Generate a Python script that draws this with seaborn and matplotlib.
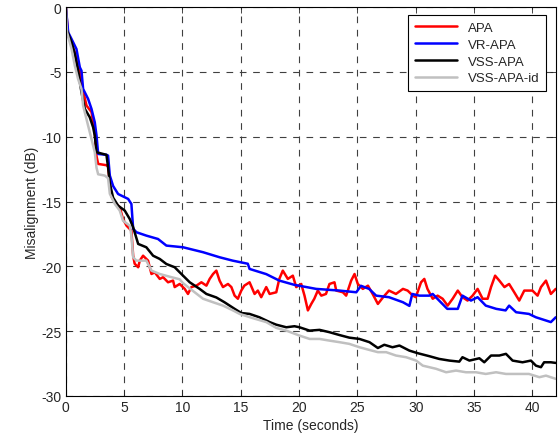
"""
Misalignment vs. time for APA family algorithms
"""

import numpy as np
import pandas as pd
import matplotlib
matplotlib.use('Agg')
import matplotlib.pyplot as plt
import seaborn as sns

# ---- data ----
names = ['APA', 'VR-APA', 'VSS-APA', 'VSS-APA-id']
colors = ['#ff0000', '#0000ff', '#000000', '#c0c0c0']

t_apa = [0, 0.2, 0.77, 0.97, 1.2, 1.34, 1.77, 2.2, 2.48, 2.63,
         2.77, 3.48, 3.62, 3.77, 3.9, 4.2, 4.62, 4.9, 5.2, 5.62,
         5.77, 5.9, 6.2, 6.34, 6.62, 7.05, 7.34, 7.62, 8.05, 8.34,
         8.76, 9.19, 9.33, 9.76, 10.19, 10.47, 10.76, 11.19, 11.62, 12.05,
         12.33, 12.62, 12.9, 13.18, 13.47, 13.9, 14.19, 14.47, 14.75, 15.04,
         15.3, 15.75, 16.18, 16.46, 16.75, 17.18, 17.47, 18.04, 18.3, 18.6,
         19.03, 19.46, 19.75, 20.18, 20.46, 20.75, 21.04, 21.3, 21.6, 21.9,
         22.3, 22.6, 23.03, 23.18, 23.75, 24.03, 24.46, 24.75, 25.03, 25.46,
         25.9, 26.3, 26.75, 27.2, 27.7, 28.3, 28.9, 29.3, 29.75, 30.0,
         30.45, 30.73, 31.0, 31.45, 31.87, 32.3, 32.73, 33.16, 33.6, 34.0,
         34.44, 34.87, 35.3, 35.73, 36.16, 36.45, 36.8, 37.16, 37.6, 38.0,
         38.44, 38.87, 39.3, 40.0, 40.44, 40.73, 41.16, 41.58, 42.0]
v_apa = [0, -2.2, -3.5, -4.5, -4.9, -5.9, -7.6, -8.1, -9.7, -11.5,
         -12.1, -12.2, -12.3, -13.6, -14.6, -15.06, -15.44, -16.35, -16.86, -17.25,
         -19.18, -19.8, -20.07, -19.56, -19.18, -19.56, -20.59, -20.46, -20.97, -20.84,
         -21.23, -21.1, -21.6, -21.36, -21.74, -22.13, -21.6, -21.49, -21.23, -21.49,
         -20.97, -20.59, -20.33, -21.1, -21.6, -21.36, -21.6, -22.26, -22.5, -21.87,
         -21.49, -21.23, -22.13, -21.87, -22.38, -21.6, -22.13, -22.0, -20.97, -20.33,
         -20.97, -20.72, -21.6, -21.36, -22.26, -23.4, -22.9, -22.5, -21.87, -22.26,
         -22.13, -21.36, -21.23, -21.87, -22.0, -22.26, -21.1, -20.59, -21.36, -21.74,
         -21.49, -22.13, -22.9, -22.38, -21.87, -22.13, -21.74, -21.87, -22.26, -22.38,
         -21.23, -20.97, -21.74, -22.5, -22.26, -22.5, -23.03, -22.5, -21.87, -22.38,
         -22.64, -22.26, -21.74, -22.5, -22.5, -21.6, -20.72, -21.1, -21.6, -21.36,
         -22.0, -22.64, -21.87, -21.87, -22.26, -21.6, -21.1, -22.13, -21.74]

t_vr = [0, 0.2, 0.49, 0.91, 1.2, 1.34, 1.48, 1.91, 2.2, 2.48,
        2.63, 2.77, 3.48, 3.62, 3.77, 4.05, 4.48, 5.34, 5.62, 5.77,
        6.05, 6.9, 7.9, 8.62, 10.05, 11.76, 13.18, 14.3, 15.6, 15.75,
        17.18, 18.3, 19.6, 20.03, 21.46, 23.46, 24.9, 25.3, 26.0, 26.6,
        27.7, 28.9, 29.45, 29.7, 30.3, 31.16, 31.45, 32.0, 32.7, 33.6,
        34.0, 34.73, 35.3, 36.0, 36.9, 37.7, 38.0, 38.6, 39.7, 40.3,
        41.58, 42.0]
v_vr = [0, -1.95, -2.47, -3.24, -4.65, -4.91, -6.32, -7.09, -7.86, -8.89,
        -9.92, -11.33, -11.4, -11.46, -13.0, -13.8, -14.42, -14.8, -15.19, -17.1,
        -17.37, -17.63, -17.89, -18.4, -18.53, -18.91, -19.3, -19.56, -19.8, -20.2,
        -20.6, -21.1, -21.43, -21.5, -21.74, -21.87, -22.0, -21.5, -21.74, -22.26,
        -22.38, -22.77, -23.05, -22.13, -22.26, -22.26, -22.13, -22.64, -23.28, -23.28,
        -22.26, -22.64, -22.38, -23.03, -23.28, -23.4, -23.03, -23.54, -23.67, -23.93,
        -24.3, -23.93]

t_vss = [0, 0.05, 0.49, 0.77, 1.05, 1.34, 1.63, 2.05, 2.34, 2.48,
         2.63, 3.48, 3.62, 3.77, 4.05, 4.48, 5.05, 5.48, 5.77, 6.2,
         6.9, 7.48, 8.05, 8.62, 9.33, 9.76, 10.62, 11.47, 12.05, 12.9,
         13.6, 14.47, 15.04, 15.75, 16.6, 17.47, 18.04, 18.9, 19.6, 20.03,
         20.9, 21.75, 22.6, 23.46, 24.3, 25.17, 26.03, 26.75, 27.3, 28.0,
         28.6, 29.45, 30.17, 31.16, 32.0, 32.88, 33.73, 34.0, 34.6, 35.45,
         35.87, 36.45, 37.16, 37.73, 38.3, 39.15, 39.87, 40.3, 40.73, 41.0,
         41.58, 42.0]
v_vss = [0, -1.7, -2.72, -3.62, -4.91, -6.58, -7.86, -8.5, -9.28, -9.92,
         -11.2, -11.4, -12.36, -13.6, -14.7, -15.32, -15.7, -16.35, -16.99, -18.27,
         -18.53, -19.18, -19.43, -19.82, -20.07, -20.46, -21.23, -21.74, -22.13, -22.4,
         -22.77, -23.28, -23.6, -23.67, -23.93, -24.3, -24.5, -24.7, -24.62, -24.7,
         -24.96, -24.9, -25.08, -25.3, -25.5, -25.6, -25.85, -26.3, -26.05, -26.24,
         -26.11, -26.5, -26.7, -26.93, -27.14, -27.27, -27.35, -27.01, -27.27, -27.09,
         -27.4, -26.88, -26.88, -26.75, -27.27, -27.4, -27.27, -27.66, -27.78, -27.4,
         -27.4, -27.45]

t_vss_id = [0, 0.1, 0.49, 0.77, 1.05, 1.34, 1.48, 1.91, 2.2, 2.48,
            2.63, 2.77, 3.34, 3.62, 3.77, 4.2, 4.62, 4.9, 5.48, 5.62,
            5.77, 6.05, 6.9, 7.34, 8.05, 8.9, 9.76, 10.05, 10.9, 11.76,
            12.62, 13.47, 14.33, 14.9, 16.04, 17.18, 18.04, 18.9, 20.03, 20.9,
            21.75, 22.6, 23.46, 24.3, 25.17, 26.03, 26.75, 27.46, 28.3, 29.17,
            30.03, 30.6, 31.73, 32.6, 33.45, 34.3, 35.16, 36.0, 36.88, 37.73,
            38.6, 39.7, 40.6, 41.16, 42.0]
v_vss_id = [0, -1.95, -3.24, -4.52, -5.55, -6.32, -7.6, -9.15, -10.18, -11.2,
            -12.4, -12.9, -13.0, -13.2, -14.4, -15.19, -15.7, -16.48, -16.86, -17.63,
            -19.3, -19.56, -19.56, -20.33, -20.59, -20.8, -21.0, -21.3, -21.9, -22.5,
            -22.77, -23.03, -23.4, -23.67, -24.0, -24.3, -24.75, -24.96, -25.34, -25.6,
            -25.6, -25.73, -25.85, -25.98, -26.24, -26.45, -26.62, -26.62, -26.88, -27.01,
            -27.27, -27.66, -27.9, -28.17, -28.04, -28.17, -28.17, -28.3, -28.17, -28.3,
            -28.3, -28.3, -28.55, -28.43, -28.68]

x_ticks = np.arange(0, 45, 5)
y_ticks = np.arange(-30, 5, 5)


def build_frame():
    """Junta todas las series en formato largo"""
    series = [(t_apa, v_apa), (t_vr, v_vr), (t_vss, v_vss), (t_vss_id, v_vss_id)]
    frames = []
    for name, (t, v) in zip(names, series):
        frames.append(pd.DataFrame({'time': t, 'mis': v, 'algo': name}))
    return pd.concat(frames, ignore_index=True)


def main():
    sns.set_style('ticks')
    plt.rcParams['font.family'] = ['Liberation Sans', 'DejaVu Sans']
    plt.rcParams['axes.unicode_minus'] = False

    df = build_frame()

    fig = plt.figure(figsize=(5.58, 4.39), dpi=100)
    ax = fig.add_axes([0.118, 0.0957, 0.878, 0.886])

    sns.lineplot(
        data=df, x='time', y='mis', hue='algo',
        hue_order=names, palette=colors,
        estimator=None, sort=False, linewidth=1.8,
        legend=False, ax=ax
    )

    ax.set_xlim(0, 42)
    ax.set_ylim(-30, 0)
    ax.set_xticks(x_ticks)
    ax.set_yticks(y_ticks)
    ax.grid(True, color='0.25', linestyle=(0, (6, 6)), linewidth=0.8)
    ax.tick_params(direction='in', top=True, right=True, length=4,
                   width=0.6, labelsize=10, pad=3)
    for s in ax.spines.values():
        s.set_color('black')
        s.set_linewidth(0.8)

    ax.set_xlabel('Time (seconds)', fontsize=10, labelpad=3)
    ax.set_ylabel('Misalignment (dB)', fontsize=10, labelpad=2)

    leg = ax.legend(
        handles=ax.lines[:4], labels=names,
        loc='upper right', bbox_to_anchor=(0.9796, 0.9794),
        borderaxespad=0, fancybox=False, framealpha=1,
        edgecolor='black', fontsize=9.5, handlelength=3.2,
        labelspacing=0.35, borderpad=0.5
    )
    leg.get_frame().set_linewidth(0.8)

    fig.savefig('out.png', dpi=100)
    plt.close(fig)


if __name__ == '__main__':
    main()
